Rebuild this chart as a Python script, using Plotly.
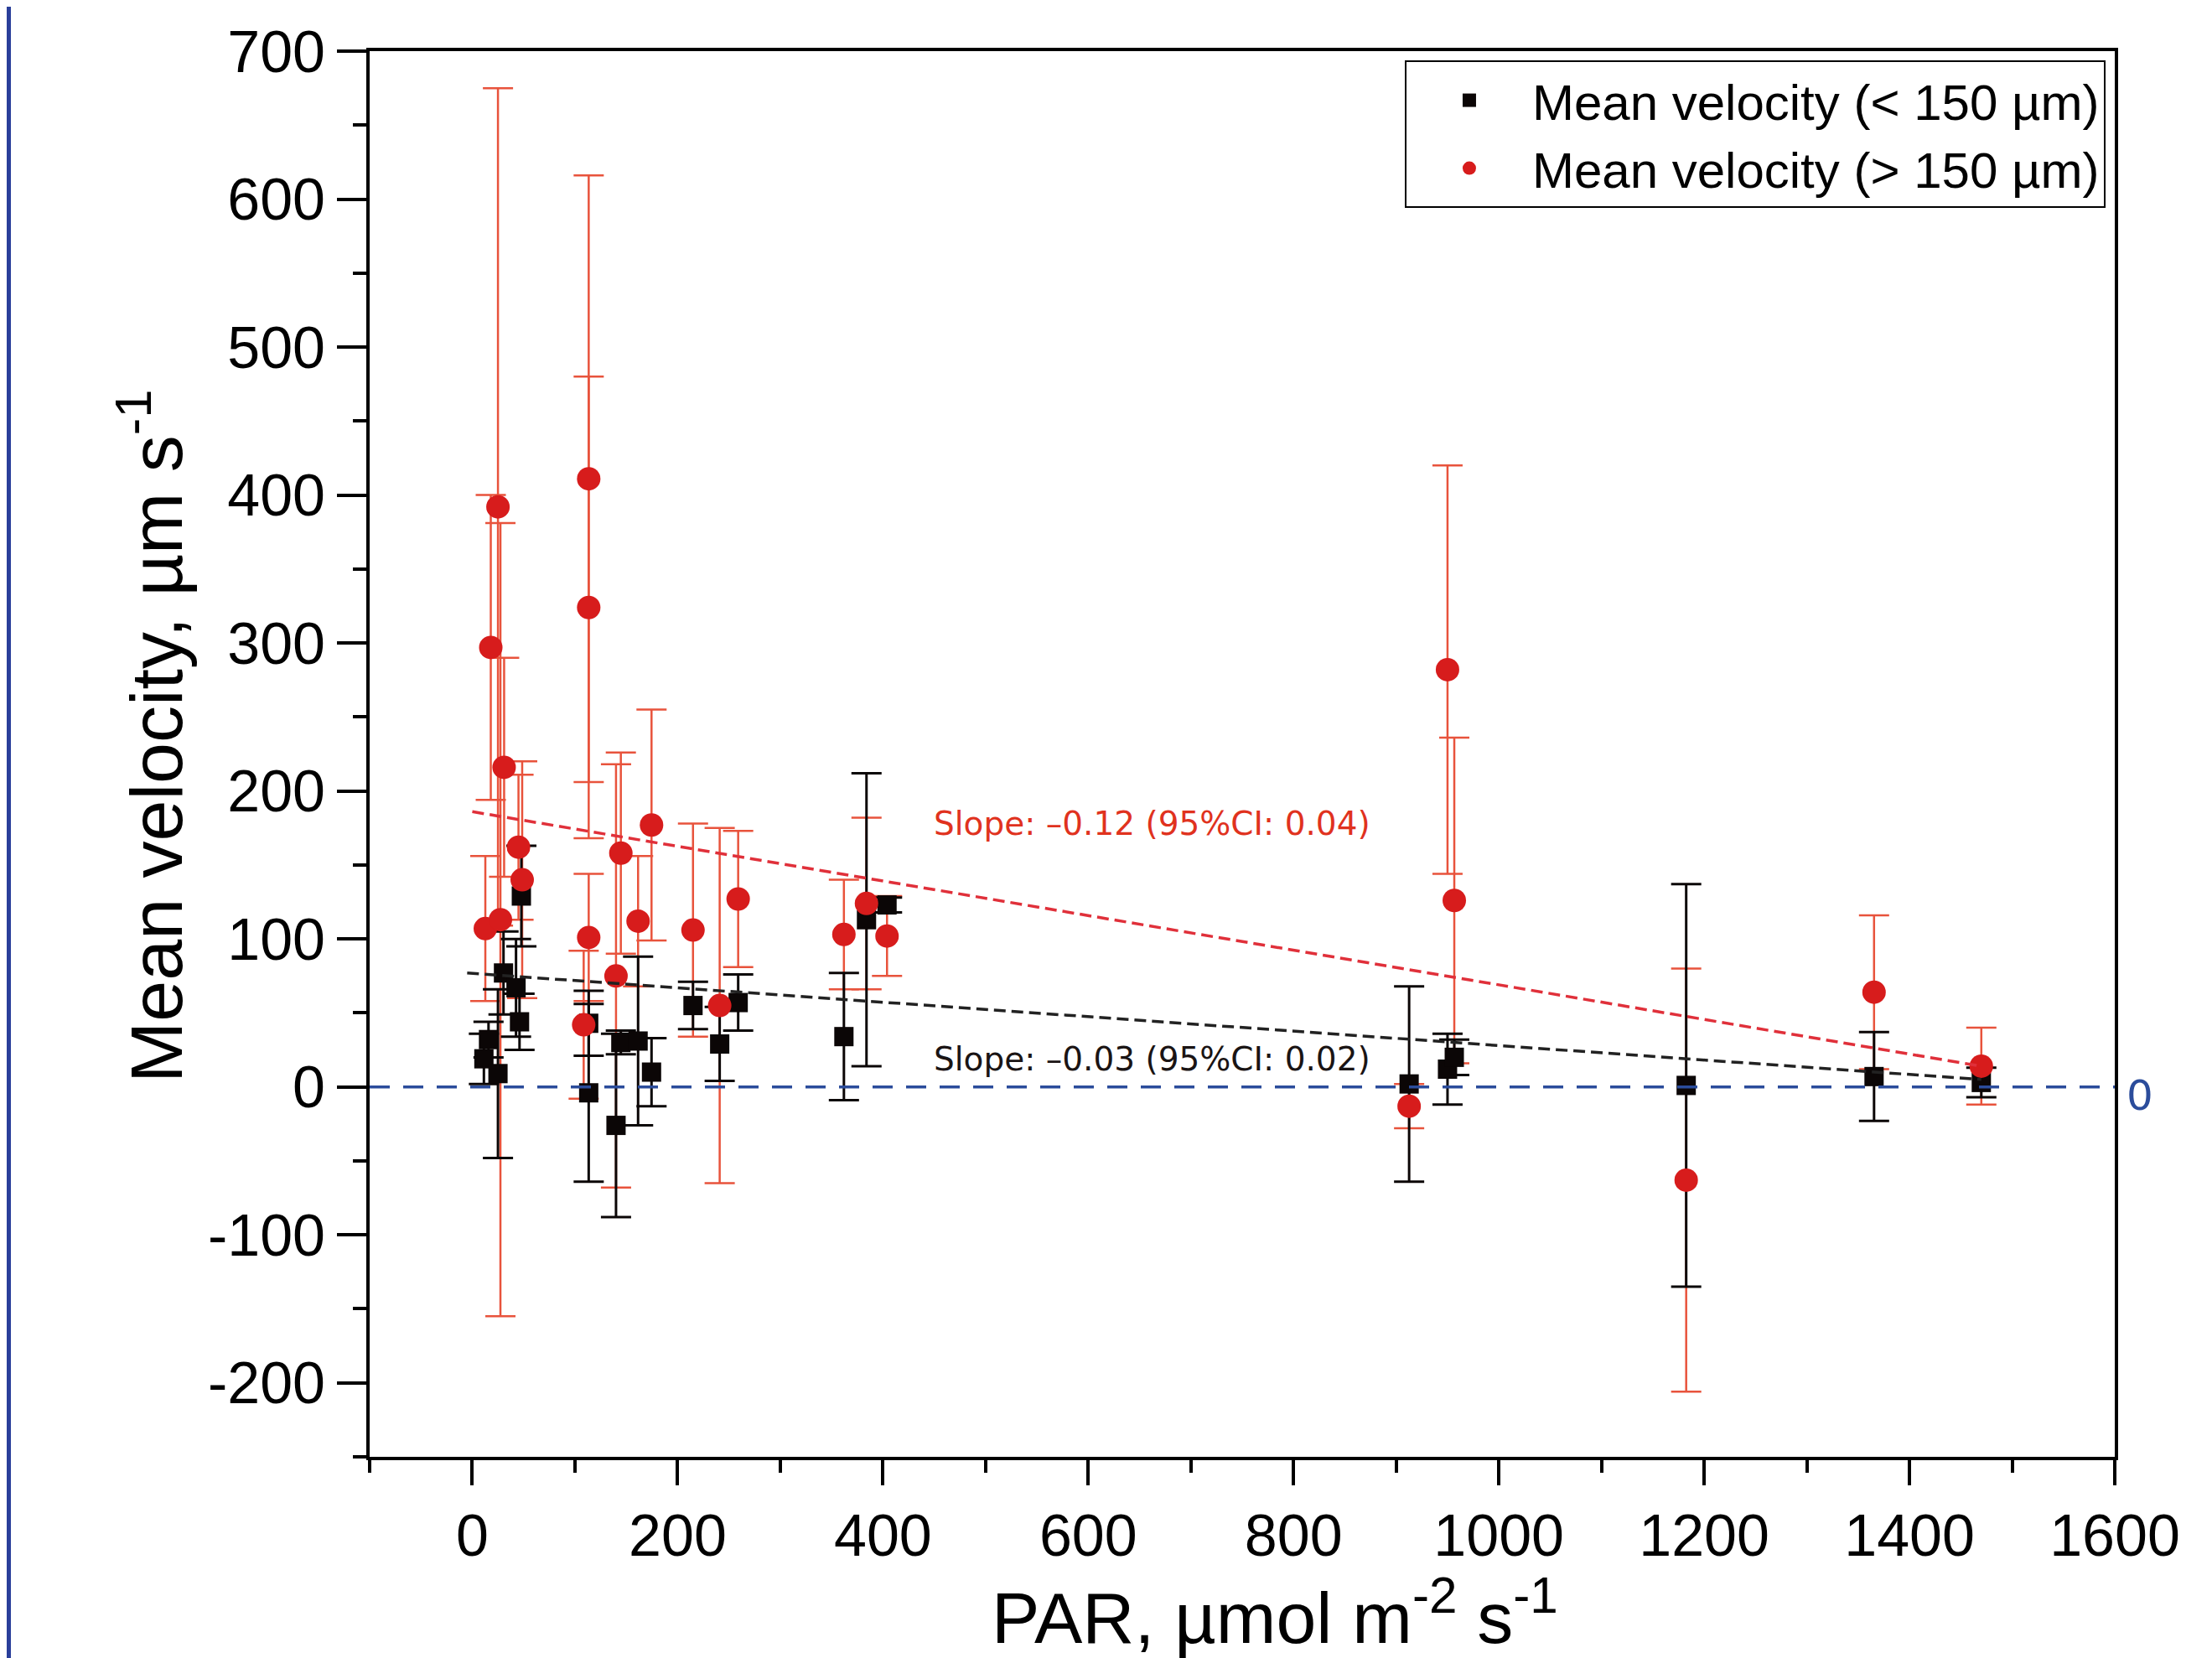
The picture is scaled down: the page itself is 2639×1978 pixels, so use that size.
import plotly.graph_objects as go

# PAR (x) values, mean velocity and error for particles < 150 um
small_par = [11.3, 15.8, 25, 30.4, 42.6, 46, 47.8, 113.4, 113.4, 140, 144.7, 161.5, 174.6,
             215, 241, 259, 362, 384, 404, 912.6, 950, 956.6, 1182.5, 1365.5, 1470]
small_vel = [19, 32, 9, 77, 67, 44, 129, 43, -4, -26, 30, 31, 10,
             55, 29, 57, 34, 113, 123, 2, 12, 20, 1, 7, 3]
small_err = [17, 12, 57, 28, 33, 19, 34, 22, 60, 62, 8, 57, 23,
             16, 25, 19, 43, 99, 5, 66, 24, 12, 136, 30, 10]

# particles > 150 um
large_par = [12.7, 18, 25, 27.4, 31, 45, 48.6, 108.5, 113.4, 113.4, 113.4, 140, 144.7, 161.5,
             174.6, 215, 241, 259, 362, 384, 404, 912.6, 950, 956.6, 1182.5, 1365.5, 1470]
large_vel = [107, 297, 392, 113, 216, 162, 140, 42, 411, 324, 101, 75, 158, 112,
             177, 106, 55, 127, 103, 124, 102, -13, 282, 126, -63, 64, 14]
large_err = [49, 103, 283, 268, 74, 49, 80, 50, 205, 156, 43, 143, 68, 44,
             78, 72, 120, 46, 37, 58, 27, 15, 138, 110, 143, 52, 26]

# fitted lines (end points)
fit_small_x = [-5, 1470]
fit_small_y = [77, 5]
fit_large_x = [0, 1470]
fit_large_y = [186, 14]

y_ticks = [-200, -100, 0, 100, 200, 300, 400, 500, 600, 700]
y_ticktext = ["-200", "-100", "0", "100", "200", "300", "400", "500", "600", "700"]

RED = "#d71c1c"
RED_BAR = "#e8533c"
BLACK = "#0b0606"
BLUE = "#2b4c9b"
AXFONT = "Liberation Sans, Arial"

W, H = 2639, 1978
ML, MR, MT, MB = 433, 124, 53, 248
PW = W - ML - MR
PH = H - MT - MB

fig = go.Figure()

# red error bars first so the black squares sit on top of them
fig.add_trace(go.Scatter(
    x=large_par, y=large_vel, mode="markers",
    marker=dict(size=1, color="rgba(0,0,0,0)"),
    error_y=dict(type="data", array=large_err, visible=True,
                 color=RED_BAR, thickness=2.5, width=18),
    showlegend=False, hoverinfo="skip",
))

fig.add_trace(go.Scatter(
    x=small_par, y=small_vel, mode="markers",
    name="Mean velocity (< 150 \u00b5m)",
    marker=dict(symbol="square", size=23, color=BLACK),
    error_y=dict(type="data", array=small_err, visible=True,
                 color=BLACK, thickness=3, width=18),
))

fig.add_trace(go.Scatter(
    x=large_par, y=large_vel, mode="markers",
    name="Mean velocity (> 150 \u00b5m)",
    marker=dict(symbol="circle", size=28, color=RED),
))

fig.add_trace(go.Scatter(
    x=fit_small_x, y=fit_small_y, mode="lines",
    line=dict(color="#222222", width=3.5, dash="14px,7px"),
    showlegend=False, hoverinfo="skip",
))
fig.add_trace(go.Scatter(
    x=fit_large_x, y=fit_large_y, mode="lines",
    line=dict(color="#e0303a", width=3.5, dash="14px,7px"),
    showlegend=False, hoverinfo="skip",
))

# zero line
fig.add_shape(type="line", xref="paper", yref="y", x0=0, x1=1, y0=0, y1=0,
              line=dict(color=BLUE, width=3.5, dash="24px,16px"))
# slide edge on the far left
fig.add_shape(type="rect", xref="paper", yref="paper",
              x0=-ML / PW, x1=(5 - ML) / PW, y0=-0.3, y1=1.1,
              line=dict(width=0), fillcolor="#2a3f9a", layer="below")

fig.add_annotation(x=1.006, y=0, xref="paper", yref="y", text="0", showarrow=False,
                   xanchor="left", yanchor="middle", yshift=-10,
                   font=dict(family="DejaVu Sans", size=50, color=BLUE))
fig.add_annotation(x=448, y=178, text="Slope: \u20130.12 (95%CI: 0.04)", showarrow=False,
                   xanchor="left", yanchor="middle",
                   font=dict(family="DejaVu Sans", size=39, color="#e0321e"))
fig.add_annotation(x=448, y=19, text="Slope: \u20130.03 (95%CI: 0.02)", showarrow=False,
                   xanchor="left", yanchor="middle",
                   font=dict(family="DejaVu Sans", size=39, color="#1a1414"))
# axis titles
fig.add_annotation(x=(1513 - ML) / PW, y=-0.111, xref="paper", yref="paper",
                   text="PAR, \u00b5mol m<sup>-2</sup> s<sup>-1</sup>", showarrow=False,
                   xanchor="center", yanchor="middle",
                   font=dict(family=AXFONT, size=86, color="black"))
fig.add_annotation(x=(172 - ML) / PW, y=(H - MB - 870) / PH, xref="paper", yref="paper",
                   text="Mean velocity, \u00b5m s<sup>-1</sup>", showarrow=False,
                   textangle=-90, xanchor="center", yanchor="middle",
                   font=dict(family=AXFONT, size=88, color="black"))

axis_common = dict(
    showgrid=False, zeroline=False, showline=True, linecolor="black", linewidth=4,
    mirror=True, ticks="outside", tickwidth=4, tickcolor="black", automargin=False,
    tickfont=dict(family=AXFONT, size=70, color="black"),
)

fig.update_xaxes(
    range=[-100, 1600], tick0=0, dtick=200, ticklen=30,
    minor=dict(dtick=100, ticks="outside", ticklen=15, tickwidth=4, tickcolor="black"),
    **axis_common,
)
fig.update_yaxes(
    range=[-250, 700], tickvals=y_ticks, ticktext=y_ticktext, ticklen=35,
    minor=dict(dtick=50, ticks="outside", ticklen=16, tickwidth=4, tickcolor="black"),
    **axis_common,
)

fig.update_layout(
    width=W, height=H,
    margin=dict(l=ML, r=MR, t=MT, b=MB),
    paper_bgcolor="white", plot_bgcolor="white",
    legend=dict(x=0.9947, y=0.9934, xanchor="right", yanchor="top",
                bgcolor="white", bordercolor="black", borderwidth=2,
                font=dict(family=AXFONT, size=60, color="black"),
                itemsizing="trace", itemwidth=140, tracegroupgap=0),
)

fig.write_html("out.html")
